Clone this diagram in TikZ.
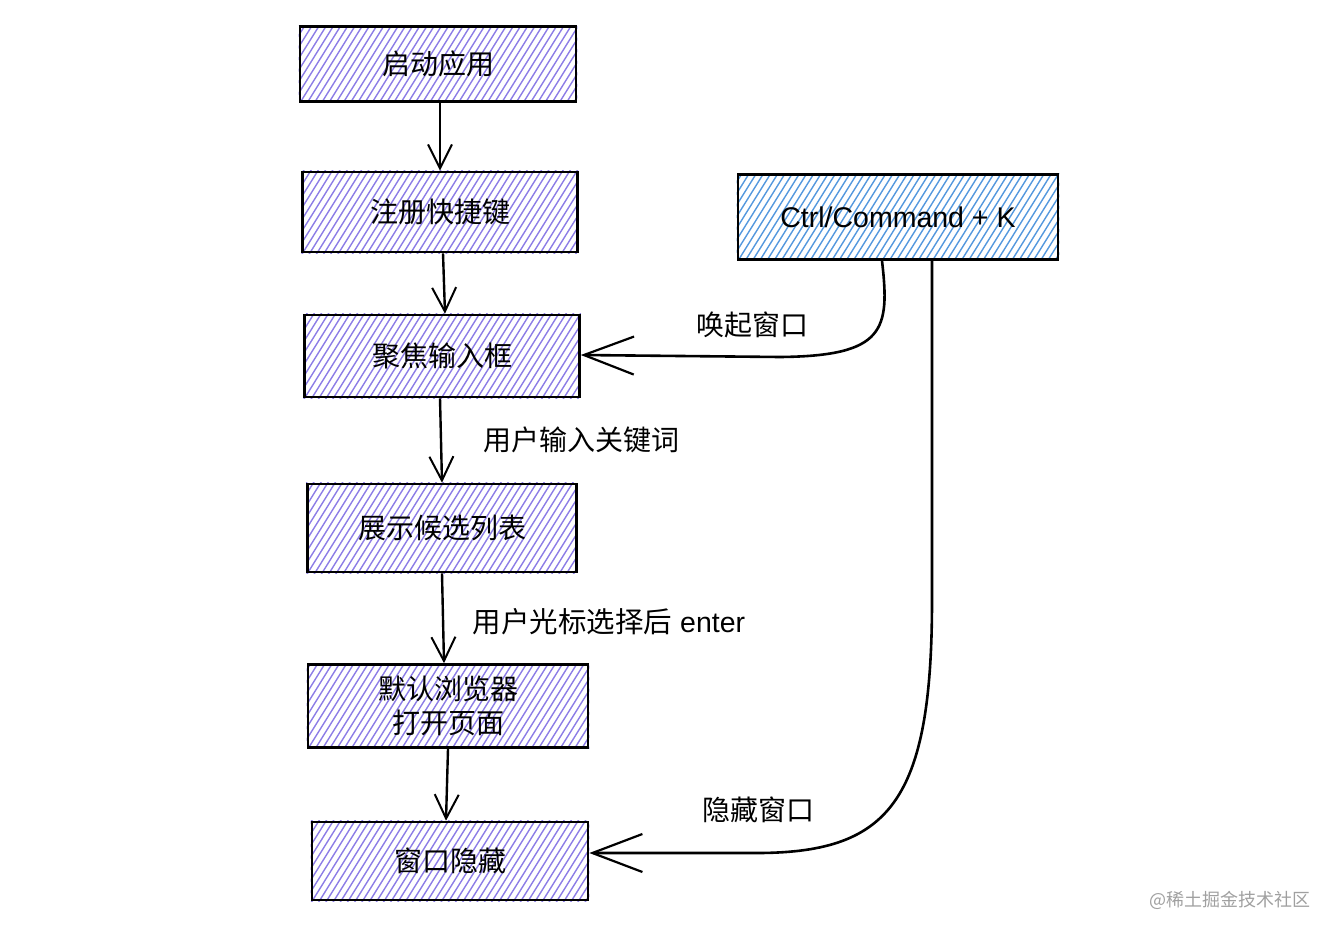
\documentclass[tikz,border=0pt]{standalone}
\usepackage{fontspec}
\setmainfont{Liberation Sans}
\newfontfamily\cjk{Noto Sans CJK SC}
\usetikzlibrary{arrows.meta,backgrounds,calc}
\definecolor{hatchP}{RGB}{140,125,230}
\definecolor{hatchB}{RGB}{84,152,222}
\definecolor{wm}{RGB}{160,160,160}
\tikzset{
  flowbox/.style={draw=black,line width=2.6pt,inner sep=0pt,align=center,
    font=\cjk\fontsize{28}{34}\selectfont},
  keybox/.style={flowbox,font=\fontsize{28.5}{32}\selectfont},
  hatchline/.style={line width=1.4pt},
  conn/.style={line width=2.4pt,-{Straight Barb[length=24pt,width=24pt,line width=2pt]}},
  bigconn/.style={line width=2.6pt,-{Straight Barb[length=50pt,width=38pt,line width=2.2pt]}},
  lbl/.style={font=\cjk\fontsize{28}{32}\selectfont,inner sep=0pt}
}
\newcommand\hatchbox[2]{%
  \begin{scope}[on background layer]
   \begin{scope}
    \clip (#1.south west) rectangle (#1.north east);
    \foreach \i in {0,...,54}{
      \draw[hatchline,#2] ($(#1.south west)+(\i*7.2-66,4)$) -- ++(66,-106);
    }
   \end{scope}
  \end{scope}}
\begin{document}
\begin{tikzpicture}[x=1pt,y=-1pt]
\useasboundingbox (0,0) rectangle (1336,936);
\node[flowbox,minimum width=276pt,minimum height=75pt] (n1) at (438,64) {启动应用};
\node[flowbox,minimum width=275pt,minimum height=80pt] (n2) at (440,212) {注册快捷键};
\node[flowbox,minimum width=275pt,minimum height=82pt] (n3) at (442,356) {聚焦输入框};
\node[flowbox,minimum width=269pt,minimum height=88pt] (n4) at (442,528) {展示候选列表};
\node[flowbox,minimum width=280pt,minimum height=83pt] (n5) at (448,706) {默认浏览器\\打开页面};
\node[flowbox,minimum width=276pt,minimum height=78pt] (n6) at (450,861) {窗口隐藏};
\node[keybox,minimum width=320pt,minimum height=85pt] (k) at (898,217) {Ctrl/Command + K};

\hatchbox{n1}{hatchP}
\hatchbox{n2}{hatchP}
\hatchbox{n3}{hatchP}
\hatchbox{n4}{hatchP}
\hatchbox{n5}{hatchP}
\hatchbox{n6}{hatchP}
\hatchbox{k}{hatchB}

\draw[conn] ([xshift=2pt]n1.south) -- ([xshift=0pt]n2.north);
\draw[conn] ([xshift=3pt]n2.south) -- ([xshift=3pt]n3.north);
\draw[conn] ([xshift=-2pt]n3.south) -- ([xshift=0pt]n4.north);
\draw[conn] ([xshift=0pt]n4.south) -- ([xshift=-4pt]n5.north);
\draw[conn] ([xshift=0pt]n5.south) -- ([xshift=-4pt]n6.north);

\draw[bigconn] ([xshift=-16pt]k.south) .. controls (890,330) and (885,356) .. (780,357) -- ([yshift=1pt]n3.east);
\draw[bigconn] ([xshift=34pt]k.south) -- (932,600) .. controls (932,800) and (890,852) .. (760,853) -- ([yshift=8pt]n6.east);

\node[lbl] (l1) at (752,325) {唤起窗口};
\node[lbl] (l2) at (758,810) {隐藏窗口};
\node[lbl] (l3) at (581,440) {用户输入关键词};
\node[lbl,font=\fontsize{28.5}{32}\selectfont] (l4) at (609,622) {{\cjk 用户光标选择后} enter};
\node[font=\cjk\fontsize{18}{20}\selectfont,text=wm,inner sep=0pt] (w) at (1230,900) {@稀土掘金技术社区};
\end{tikzpicture}
\end{document}
